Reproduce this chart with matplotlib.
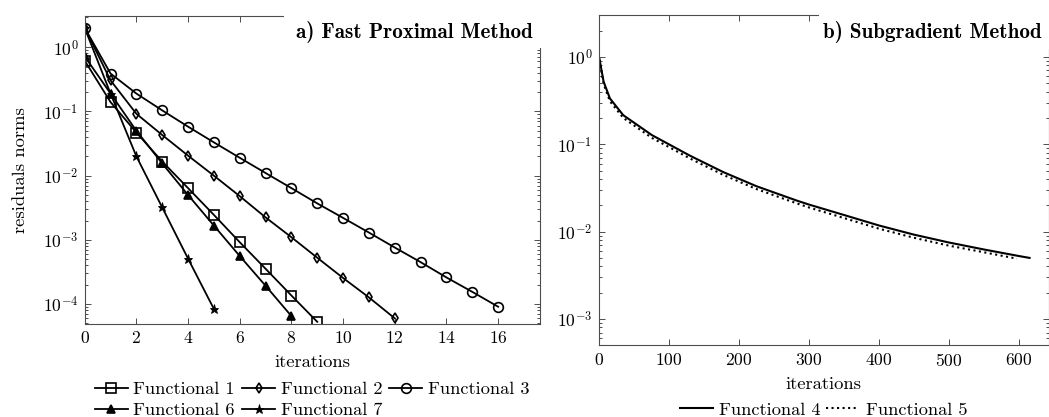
import matplotlib
matplotlib.use('Agg')
import matplotlib.pyplot as plt
from matplotlib.ticker import LogLocator, NullFormatter, FixedLocator
from matplotlib.patches import Rectangle

plt.rcParams['font.family'] = 'cmr10'
plt.rcParams['mathtext.fontset'] = 'cm'
plt.rcParams['axes.formatter.use_mathtext'] = True
plt.rcParams['font.size'] = 13.3

# ---- Panel a) Fast Proximal Method ----
f1_x = [0, 1, 2, 3, 4, 5, 6, 7, 8, 9]
f1_y = [0.62, 0.14, 0.047, 0.0166, 0.0064, 0.00245, 9.2e-4, 3.55e-4, 1.36e-4, 5.3e-5]
f2_x = [0, 1, 2, 3, 4, 5, 6, 7, 8, 9, 10, 11, 12]
f2_y = [2.0, 0.305, 0.092, 0.043, 0.0205, 0.010, 0.0048, 0.00224, 0.0011, 5.27e-4, 2.55e-4, 1.27e-4, 6.0e-5]
f3_x = [0, 1, 2, 3, 4, 5, 6, 7, 8, 9, 10, 11, 12, 13, 14, 15, 16]
f3_y = [2.0, 0.39, 0.19, 0.104, 0.058, 0.033, 0.019, 0.011, 0.0064, 0.0037, 0.0022, 0.0013,
        7.6e-4, 4.5e-4, 2.6e-4, 1.55e-4, 9.1e-5]
f6_x = [0, 1, 2, 3, 4, 5, 6, 7, 8]
f6_y = [0.72, 0.19, 0.05, 0.0155, 0.0050, 0.00167, 5.6e-4, 1.93e-4, 6.5e-5]
f7_x = [0, 1, 2, 3, 4, 5]
f7_y = [2.0, 0.19, 0.02, 0.0032, 5.1e-4, 8.4e-5]

# ---- Panel b) Subgradient Method ----
f4_x = [1, 7, 16, 35, 76, 100, 130, 178, 225, 283, 300, 350, 400, 450, 500, 550, 600, 615]
f4_y = [0.95, 0.52, 0.334, 0.215, 0.127, 0.100, 0.0741, 0.0479, 0.0331, 0.0226, 0.0204,
        0.0155, 0.01175, 0.00923, 0.0075, 0.00624, 0.00525, 0.0050]
f5_x = [1, 7, 16, 35, 76, 100, 130, 178, 225, 283, 300, 350, 400, 450, 500, 550, 597]
f5_y = [0.93, 0.49, 0.31, 0.20, 0.118, 0.093, 0.0688, 0.0445, 0.0307, 0.0210, 0.0189,
        0.0143, 0.0108, 0.0085, 0.0069, 0.0058, 0.0049]

left_xticks = [0, 2, 4, 6, 8, 10, 12, 14, 16]
right_xticks = [0, 100, 200, 300, 400, 500, 600]

W, H = 1049, 417
fig = plt.figure(figsize=(W / 100, H / 100), dpi=100)

def px_axes(x0, x1, ytop, ybot):
    return [x0 / W, 1 - ybot / H, (x1 - x0) / W, (ybot - ytop) / H]

ax1 = fig.add_axes(px_axes(84.7, 539.5, 15.7, 324.0))
ax2 = fig.add_axes(px_axes(598.7, 1048.5, 14.5, 345.3))

spine_col = '0.3'
for ax in (ax1, ax2):
    ax.set_yscale('log')
    for s in ax.spines.values():
        s.set_color(spine_col)
        s.set_linewidth(0.8)
    ax.yaxis.set_major_locator(LogLocator(base=10, numticks=20))
    ax.yaxis.set_minor_locator(LogLocator(base=10, subs=[2, 3, 4, 5, 6, 7, 8, 9], numticks=20))
    ax.yaxis.set_minor_formatter(NullFormatter())
    ax.tick_params(which='both', direction='in', top=True, right=True, color=spine_col,
                   width=0.7, labelsize=12.6, pad=4.5)
    ax.tick_params(which='major', length=4.0)
    ax.tick_params(which='minor', length=2.3)

lw = 1.3
ms = 6.5
mew = 1.2
ax1.plot(f1_x, f1_y, '-', color='k', lw=lw, marker='s', ms=ms, mfc='none', mew=mew, label='Functional 1')
ax1.plot(f2_x, f2_y, '-', color='k', lw=lw, marker='d', ms=5.5, mfc='none', mew=mew, label='Functional 2')
ax1.plot(f3_x, f3_y, '-', color='k', lw=lw, marker='o', ms=ms + 0.5, mfc='none', mew=mew, label='Functional 3')
ax1.plot(f6_x, f6_y, '-', color='k', lw=lw, marker='^', ms=ms - 0.5, mfc='k', mew=mew, label='Functional 6')
ax1.plot(f7_x, f7_y, '-', color='k', lw=lw, marker='*', ms=ms, mfc='k', mew=0.6, label='Functional 7')

ax1.set_xlim(0, 17.6)
ax1.set_ylim(4.9e-5, 3.1)
ax1.xaxis.set_major_locator(FixedLocator(left_xticks))
ax1.set_xlabel('iterations', fontsize=13.4, labelpad=6)
ax1.set_ylabel('residuals norms', fontsize=13.4, labelpad=11)

ax2.plot(f4_x, f4_y, '-', color='k', lw=1.5, label='Functional 4')
ax2.plot(f5_x, f5_y, ':', color='k', lw=1.5, label='Functional 5')
ax2.set_xlim(0, 642)
ax2.set_ylim(5.0e-4, 3.05)
ax2.xaxis.set_major_locator(FixedLocator(right_xticks))
ax2.set_xlabel('iterations', fontsize=13.4, labelpad=6)

# titles in white boxes at the top right corner
for ax, txt, x0 in ((ax1, 'a) Fast Proximal Method', 0.438), (ax2, 'b) Subgradient Method', 0.49)):
    ax.add_patch(Rectangle((x0, 0.895), 1.01 - x0, 0.12, transform=ax.transAxes,
                           facecolor='white', edgecolor='none', zorder=4, clip_on=False))
    ax.text(0.985, 0.948, txt, transform=ax.transAxes, ha='right', va='center',
            fontsize=15.2, family='cmb10', zorder=5)

# legends
h1, l1 = ax1.get_legend_handles_labels()
order = [0, 3, 1, 4, 2]
ax1.legend([h1[i] for i in order], [l1[i] for i in order], ncol=3, loc='center',
           bbox_to_anchor=(0.5, -0.246), frameon=False, fontsize=13.2,
           handlelength=1.8, handletextpad=0.3, columnspacing=0.4, labelspacing=0.28,
           borderpad=0, borderaxespad=0)
ax2.legend(ncol=2, loc='center', bbox_to_anchor=(0.5, -0.195), frameon=False, fontsize=13.2,
           handlelength=1.8, handletextpad=0.35, columnspacing=0.3, borderpad=0, borderaxespad=0)

fig.savefig('out.png', dpi=100)
